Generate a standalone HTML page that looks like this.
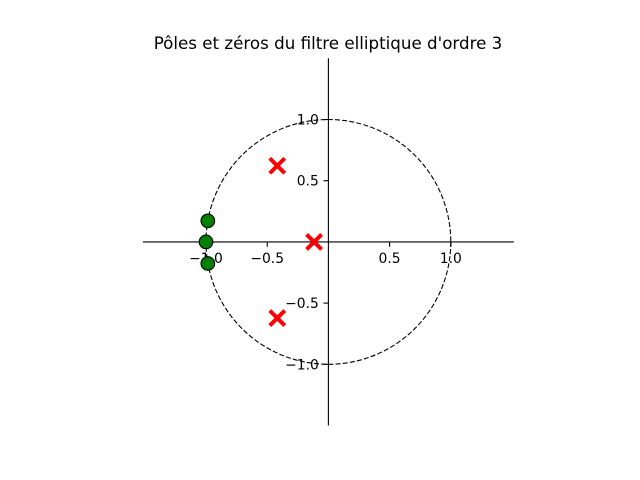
<!DOCTYPE html>
<html><head><meta charset="utf-8"><style>body{margin:0;background:#fff}svg{display:block;font-family:"DejaVu Sans","Liberation Sans",sans-serif}</style></head>
<body>
<svg id="chart" width="640" height="480">
<text x="328" y="49" font-size="16.7" text-anchor="middle">Pôles et zéros du filtre elliptique d'ordre 3</text>
</svg>
<script>
const poleRe=[-0.418,-0.418,-0.117];
const poleIm=[0.622,-0.622,0];
const zeroRe=[-0.985,-1.0,-0.985];
const zeroIm=[0.172,0,-0.176];
const xTicks=[-1.0,-0.5,0.5,1.0];
const yTicks=[-1.0,-0.5,0.5,1.0];
const cx=328.4,cy=241.9,k=122.4;
const sx=v=>cx+v*k, sy=v=>cy-v*k;
const svg=document.getElementById('chart');
const NS='http://www.w3.org/2000/svg';
function mk(t,a){const e=document.createElementNS(NS,t);for(const q in a)e.setAttribute(q,a[q]);svg.appendChild(e);return e;}
let e;
e=mk('line',{x1:sx(-1.516),x2:sx(1.516),y1:cy,y2:cy,stroke:'#000','stroke-width':1.1});


e=mk('line',{x1:cx,x2:cx,y1:sy(1.5),y2:sy(-1.5),stroke:'#000','stroke-width':1.1});


e=mk('circle',{cx:cx,cy:cy,r:k,fill:'none',stroke:'#000','stroke-width':1.1,'stroke-dasharray':'5,2.2'});


xTicks.forEach(v=>{
 e=mk('line',{x1:sx(v),x2:sx(v),y1:cy,y2:cy+4.9,stroke:'#000','stroke-width':1.1});
 
 
 e=mk('text',{x:sx(v),y:cy+21,'font-size':13.9,'text-anchor':'middle'});
 e.textContent=(v<0?'\u2212':'')+Math.abs(v).toFixed(1);
 
 
});
yTicks.forEach(v=>{
 e=mk('line',{x1:cx-4.9,x2:cx,y1:sy(v),y2:sy(v),stroke:'#000','stroke-width':1.1});
 
 
 e=mk('text',{x:cx-9.5,y:sy(v)+5,'font-size':13.9,'text-anchor':'end'});
 e.textContent=(v<0?'\u2212':'')+Math.abs(v).toFixed(1);
 
 
});
zeroRe.forEach((r,i)=>{
 e=mk('circle',{cx:sx(r),cy:sy(zeroIm[i]),r:6.8,fill:'#008000',stroke:'#000','stroke-width':1.1});
 
 
});
poleRe.forEach((r,i)=>{
 const x=sx(r),y=sy(poleIm[i]),d=7.5;
 e=mk('path',{d:`M${x-d},${y-d}L${x+d},${y+d}M${x-d},${y+d}L${x+d},${y-d}`,stroke:'#ff0000','stroke-width':4,fill:'none'});
 
 
});
</script>
</body></html>
